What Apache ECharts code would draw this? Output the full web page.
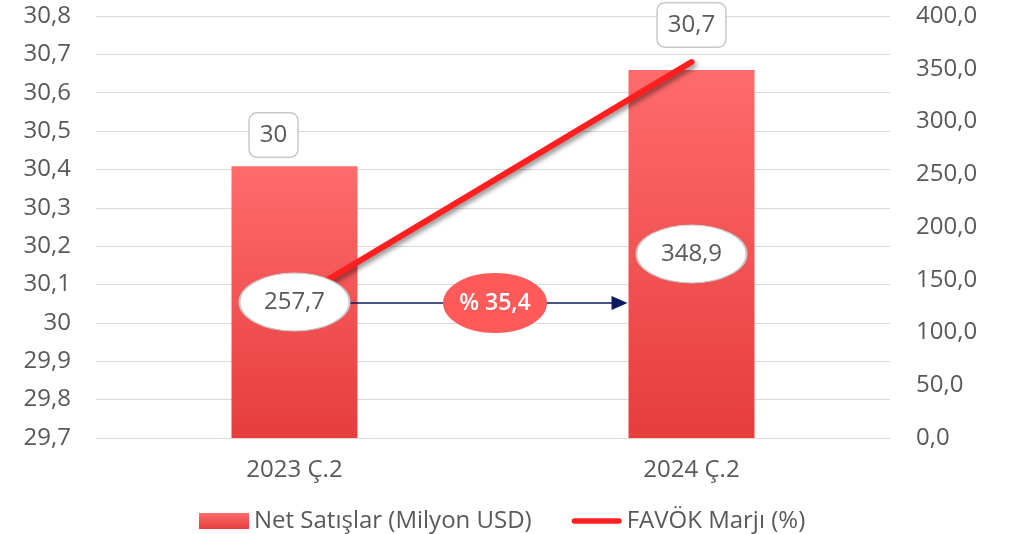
<!DOCTYPE html>
<html>
<head>
<meta charset="utf-8">
<script src="https://cdn.jsdelivr.net/npm/echarts@6/dist/echarts.min.js"></script>
<style>
  html, body { margin: 0; padding: 0; background: #fff; }
  #chart { width: 1020px; height: 534px; }
</style>
</head>
<body>
<div id="chart"></div>
<script>
// veriler
const categories = ['2023 Ç.2', '2024 Ç.2'];
const salesValues = [257.7, 348.9];          // Net Satışlar (Milyon USD)
const marginValues = [30.06, 30.68];         // FAVÖK Marjı (%) - resimden okunan konum
const marginLabels = ['30', '30,7'];
const growthLabel = '% 35,4';

const FONT = '"Open Sans", "Noto Sans", sans-serif';
const TEXT = '#595959';
const FS = 24;
const BAR_W = 126;
const LINE_RED = '#ff1f1f';

const fmtComma = (v, d) => v.toFixed(d).replace('.', ',');

const chart = echarts.init(document.getElementById('chart'));

const barColor = new echarts.graphic.LinearGradient(0, 0, 0, 1, [
  { offset: 0, color: '#ff6b6b' },
  { offset: 1, color: '#e63d3d' },
]);

const option = {
  animation: false,
  textStyle: { fontFamily: FONT },
  grid: { left: 96, right: 130, top: 16, bottom: 96 },
  legend: {
    top: 504,
    left: 194,
    itemGap: 40,
    itemWidth: 50,
    itemHeight: 16,
    textStyle: { fontFamily: FONT, fontSize: FS, color: TEXT },
    data: [
      { name: 'Net Satışlar (Milyon USD)', icon: 'rect' },
      {
        name: 'FAVÖK Marjı (%)',
        icon: 'path://M3,0 L53,0 A3,3 0 0 1 53,6 L3,6 A3,3 0 0 1 3,0 Z',
        itemStyle: { color: LINE_RED, opacity: 1 },
      },
    ],
  },
  xAxis: {
    type: 'category',
    data: categories,
    axisLine: { lineStyle: { color: '#d9d9d9' } },
    axisTick: { show: false },
    axisLabel: { color: TEXT, fontSize: FS, margin: 20, fontFamily: FONT },
  },
  yAxis: [
    {
      type: 'value',
      min: 29.7,
      max: 30.8,
      interval: 0.1,
      axisLine: { show: false },
      axisTick: { show: false },
      splitLine: { lineStyle: { color: '#d9d9d9', width: 1.2 } },
      axisLabel: {
        color: TEXT,
        fontSize: FS,
        margin: 25,
        fontFamily: FONT,
        formatter: v => String(Math.round(v * 10) / 10).replace('.', ','),
      },
    },
    {
      type: 'value',
      min: 0,
      max: 400,
      interval: 50,
      axisLine: { show: false },
      axisTick: { show: false },
      splitLine: { show: false },
      axisLabel: {
        color: TEXT,
        fontSize: FS,
        margin: 26,
        fontFamily: FONT,
        formatter: v => fmtComma(v, 1),
      },
    },
  ],
  series: [
    {
      name: 'Net Satışlar (Milyon USD)',
      type: 'bar',
      yAxisIndex: 1,
      barWidth: BAR_W,
      data: salesValues,
      z: 2,
      itemStyle: {
        color: barColor,
        shadowBlur: 6,
        shadowColor: 'rgba(0,0,0,0.3)',
      },
    },
    {
      name: 'FAVÖK Marjı (%)',
      type: 'line',
      yAxisIndex: 0,
      z: 3,
      symbol: 'circle',
      symbolSize: 1,
      showSymbol: true,
      lineStyle: {
        color: LINE_RED,
        width: 6,
        cap: 'round',
        shadowBlur: 5,
        shadowOffsetX: 2,
        shadowOffsetY: 3,
        shadowColor: 'rgba(0,0,0,0.45)',
      },
      itemStyle: { color: 'rgba(0,0,0,0)' },
      label: {
        show: true,
        position: 'inside',
        formatter: p => marginLabels[p.dataIndex],
        color: TEXT,
        fontSize: FS,
        fontFamily: FONT,
        lineHeight: 28,
        backgroundColor: '#fff',
        borderColor: '#c8c8c8',
        borderWidth: 1.5,
        borderRadius: 7,
        padding: [8, 10, 7, 10],
      },
      emphasis: { disabled: true },
      data: marginValues,
    },
    {
      // değer elipsleri
      name: 'etiket',
      type: 'scatter',
      yAxisIndex: 1,
      z: 5,
      symbol: 'circle',
      symbolSize: [110, 58],
      data: salesValues.map((v, i) => [i, v / 2]),
      itemStyle: { color: '#fff', borderColor: '#c8c8c8', borderWidth: 1.5, opacity: 1 },
      label: {
        show: true,
        position: 'inside',
        formatter: p => fmtComma(salesValues[p.dataIndex], 1),
        color: TEXT,
        fontSize: FS,
        fontFamily: FONT,
      },
      emphasis: { disabled: true },
    },
  ],
};

// çizgi etiketlerinin kaydırmaları
option.series[1].data = marginValues.map((v, i) => ({
  value: v,
  label: { offset: i === 0 ? [-21, -165] : [0, -37] },
}));

chart.setOption(option);

// ok ve büyüme etiketi
const yMid = salesValues[0] / 2;
const p0 = chart.convertToPixel({ xAxisIndex: 0, yAxisIndex: 1 }, [0, yMid]);
const p1 = chart.convertToPixel({ xAxisIndex: 0, yAxisIndex: 1 }, [1, yMid]);
const x1 = p0[0] + 55;
const x2 = p1[0] - BAR_W / 2 - 1;
const cy = p0[1] + 1;
const cx = (p0[0] + p1[0]) / 2 + 2;

chart.setOption({
  graphic: [
    {
      type: 'line',
      z: 4,
      shape: { x1: x1, y1: cy, x2: x2 - 14, y2: cy },
      style: { stroke: '#0b1a5e', lineWidth: 1.5 },
    },
    {
      type: 'polygon',
      z: 4,
      shape: { points: [[x2 - 16, cy - 7], [x2, cy], [x2 - 16, cy + 7]] },
      style: { fill: '#0b1a5e' },
    },
    {
      type: 'ellipse',
      z: 6,
      shape: { cx: cx, cy: cy, rx: 52, ry: 30 },
      style: { fill: '#ff5a5a' },
    },
    {
      type: 'text',
      z: 7,
      x: cx,
      y: cy,
      style: {
        text: growthLabel,
        fill: '#fff',
        font: '600 23px ' + FONT,
        align: 'center',
        verticalAlign: 'middle',
      },
    },
  ],
});
</script>
</body>
</html>
